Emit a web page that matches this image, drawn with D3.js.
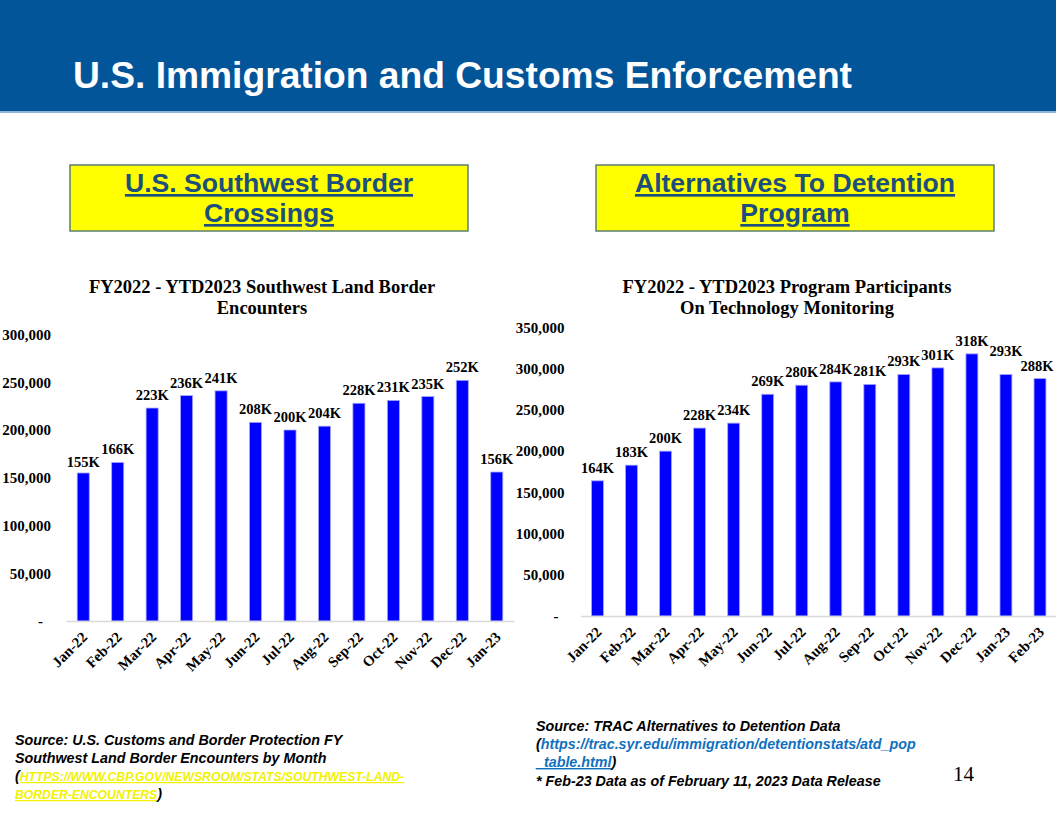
<!DOCTYPE html>
<html><head><meta charset="utf-8">
<script src="https://cdn.jsdelivr.net/npm/d3@7"></script>
<style>
body{margin:0;background:#fff;}
svg{display:block;}
</style></head>
<body>
<svg id="c" width="1056" height="816"></svg>
<script>
// ---- Data ----
const leftMonths = ["Jan-22","Feb-22","Mar-22","Apr-22","May-22","Jun-22","Jul-22","Aug-22","Sep-22","Oct-22","Nov-22","Dec-22","Jan-23"];
const leftValues = [155000,166000,223000,236000,241000,208000,200000,204000,228000,231000,235000,252000,156000];
const leftTicks = [0,50000,100000,150000,200000,250000,300000];

const rightMonths = ["Jan-22","Feb-22","Mar-22","Apr-22","May-22","Jun-22","Jul-22","Aug-22","Sep-22","Oct-22","Nov-22","Dec-22","Jan-23","Feb-23"];
const rightValues = [164000,183000,200000,228000,234000,269000,280000,284000,281000,293000,301000,318000,293000,288000];
const rightTicks = [0,50000,100000,150000,200000,250000,300000,350000];

const svg = d3.select("#c");

// ---- Header ----
svg.append("rect").attr("x",0).attr("y",0).attr("width",1056).attr("height",112).attr("fill","#03559a");
svg.append("rect").attr("x",0).attr("y",111).attr("width",1056).attr("height",2).attr("fill","#8fb3d6");
svg.append("text").attr("x",73).attr("y",88).attr("fill","#fff")
  .attr("font-family","Liberation Sans, Arial, sans-serif").attr("font-weight","bold").attr("font-size",37.2)
  .text("U.S. Immigration and Customs Enforcement");

// ---- Yellow boxes ----
function box(x, lines){
  svg.append("rect").attr("x",x).attr("y",165).attr("width",398).attr("height",66)
    .attr("fill","#ffff00").attr("stroke","#5c7f72").attr("stroke-width",1.5);
  lines.forEach((t,i)=>{
    svg.append("text").attr("x",x+199).attr("y",192+i*30).attr("text-anchor","middle")
      .attr("fill","#1c4f7c").attr("font-family","Liberation Sans, Arial, sans-serif")
      .attr("font-weight","bold").attr("font-size",26.6).attr("text-decoration","underline").text(t);
  });
}
box(70, ["U.S. Southwest Border","Crossings"]);
box(596, ["Alternatives To Detention","Program"]);

const serif = "Liberation Serif, Times New Roman, serif";
const fmt = d3.format(",");

function chart(opt){
  const g = svg.append("g");
  const x = d3.scaleBand().domain(opt.months).range(opt.xr).paddingInner(0.65).paddingOuter(0.325);
  const y = d3.scaleLinear().domain([0, d3.max(opt.ticks)]).range(opt.yr);

  opt.title.forEach((t,i)=>{
    g.append("text").attr("x",opt.tx).attr("y",opt.ty+i*21).attr("text-anchor","middle")
      .attr("font-family",serif).attr("font-weight","bold").attr("font-size",18.5).text(t);
  });

  // y axis
  const ya = g.append("g").attr("transform",`translate(${opt.xr[0]},0)`)
    .call(d3.axisLeft(y).tickValues(opt.ticks).tickSize(0).tickPadding(opt.yPad)
      .tickFormat(d=> d===0 ? "-" : fmt(d)));
  ya.select(".domain").remove();
  ya.selectAll("text").attr("font-family",serif).attr("font-weight","bold").attr("font-size",15).attr("fill","#000")
    .attr("dx", d=> d===0 ? opt.dashDx : 0);

  // bars
  g.selectAll("rect.bar").data(opt.values).join("rect").attr("class","bar")
    .attr("x",(d,i)=>x(opt.months[i])).attr("width",x.bandwidth())
    .attr("y",d=>y(d)).attr("height",d=>y(0)-y(d))
    .attr("fill","#0000ff").attr("stroke","#a6a6ff").attr("stroke-width",0.8);

  // x axis
  const xa = g.append("g").attr("transform",`translate(0,${opt.yr[0]})`)
    .call(d3.axisBottom(x).tickSize(0).tickPadding(0));
  xa.select(".domain").attr("stroke","#d9d9d9").attr("stroke-width",1.5);
  xa.selectAll("text").attr("font-family",serif).attr("font-weight","bold").attr("font-size",14.8).attr("fill","#000")
    .attr("text-anchor","end").attr("dy",0).attr("transform","translate(5,17) rotate(-45)");

  // data labels
  g.selectAll("text.lbl").data(opt.values).join("text").attr("class","lbl")
    .attr("x",(d,i)=>x(opt.months[i])+x.bandwidth()/2+(opt.lblDx[i]||0))
    .attr("y",(d,i)=>y(d)-8-(opt.lblUp[i]||0))
    .attr("text-anchor","middle").attr("font-family",serif).attr("font-weight","bold").attr("font-size",14.5)
    .text(d=>Math.round(d/1000)+"K");
}

chart({months:leftMonths, values:leftValues, ticks:leftTicks, xr:[66,514], yr:[621,334.5],
  title:["FY2022 - YTD2023 Southwest Land Border","Encounters"], tx:262, ty:293, yPad:15, dashDx:-8,
  lblDx:[], lblUp:[-2]});
chart({months:rightMonths, values:rightValues, ticks:rightTicks, xr:[580.5,1057], yr:[616,327.5],
  title:["FY2022 - YTD2023 Program Participants","On Technology Monitoring"], tx:787, ty:293, yPad:16, dashDx:-6,
  lblDx:[0,0,0,0,0,0,0,0,0,0,0,0,0,-3], lblUp:[0,0,0,0,0,0,0,0,0,0,0,0,10,0]});

// ---- Sources ----
const sans = "Liberation Sans, Arial, sans-serif";
function line(x,y,parts){
  const t = svg.append("text").attr("x",x).attr("y",y).attr("font-family",sans).attr("font-weight","bold")
    .attr("font-style","italic").attr("font-size",14.3);
  parts.forEach(p=>{
    const s = t.append("tspan").text(p.t).attr("fill",p.c||"#000");
    if(p.s) s.attr("font-size",p.s);
    if(p.u) s.attr("text-decoration","underline");
  });
}
line(15,745,[{t:"Source: U.S. Customs and Border Protection FY"}]);
line(15,763,[{t:"Southwest Land Border Encounters by Month"}]);
line(15,781,[{t:"("},{t:"HTTPS://WWW.CBP.GOV/NEWSROOM/STATS/SOUTHWEST-LAND-",c:"#f2f200",s:12.2,u:true}]);
line(15,799,[{t:"BORDER-ENCOUNTERS",c:"#f2f200",s:12.2,u:true},{t:")"}]);

line(536,731,[{t:"Source: TRAC Alternatives to Detention Data"}]);
line(536,749,[{t:"("},{t:"https://trac.syr.edu/immigration/detentionstats/atd_pop",c:"#1070c0"}]);
line(536,767,[{t:"_table.html",c:"#1070c0",u:true},{t:")"}]);
line(536,786,[{t:"* Feb-23 Data as of February 11, 2023 Data Release"}]);

svg.append("text").attr("x",953).attr("y",781).attr("font-family",serif).attr("font-size",21).text("14");
</script>
</body></html>
